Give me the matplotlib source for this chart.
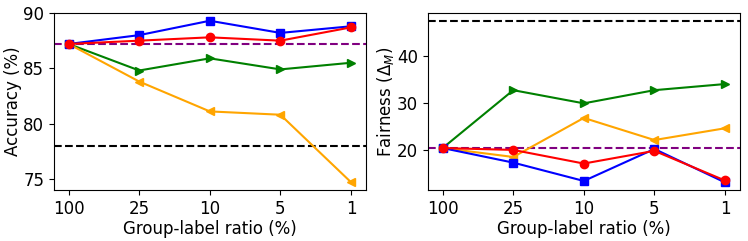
import matplotlib
matplotlib.use("Agg")
import matplotlib.pyplot as plt

ratios = ["100", "25", "10", "5", "1"]

acc_blue = [87.2, 88.0, 89.3, 88.2, 88.8]
acc_red = [87.2, 87.5, 87.8, 87.5, 88.7]
acc_green = [87.2, 84.8, 85.9, 84.9, 85.5]
acc_orange = [87.2, 83.8, 81.1, 80.8, 74.7]
acc_purple_ref = 87.2
acc_black_ref = 78.0

fair_blue = [20.5, 17.4, 13.5, 20.3, 13.2]
fair_red = [20.5, 20.1, 17.2, 19.9, 13.6]
fair_green = [20.5, 32.8, 30.0, 32.8, 34.1]
fair_orange = [20.5, 18.6, 26.9, 22.2, 24.7]
fair_purple_ref = 20.5
fair_black_ref = 47.5

plt.rcParams['font.family'] = ['DejaVu Sans']
plt.rcParams['font.size'] = 12

fig = plt.figure(figsize=(7.48, 2.41), dpi=100)
ax1 = fig.add_axes([0.072, 0.212, 0.417, 0.734])
ax2 = fig.add_axes([0.572, 0.212, 0.417, 0.734])

x = list(range(len(ratios)))

def draw(ax, blue, red, green, orange, pref, bref):
    ax.axhline(pref, color='purple', ls='--', lw=1.5)
    ax.axhline(bref, color='black', ls='--', lw=1.5)
    ax.plot(x, green, color='green', marker='>', ms=6, lw=1.5)
    ax.plot(x, orange, color='orange', marker='<', ms=6, lw=1.5)
    ax.plot(x, blue, color='blue', marker='s', ms=6, lw=1.5)
    ax.plot(x, red, color='red', marker='o', ms=6, lw=1.5)
    ax.set_xticks(x)
    ax.set_xticklabels(ratios)
    ax.set_xlim(-0.21, 4.21)
    ax.set_xlabel("Group-label ratio (%)", labelpad=2)

draw(ax1, acc_blue, acc_red, acc_green, acc_orange, acc_purple_ref, acc_black_ref)
ax1.set_ylim(74.0, 90.0)
ax1.set_yticks([75, 80, 85, 90])
ax1.set_ylabel("Accuracy (%)", labelpad=1)

draw(ax2, fair_blue, fair_red, fair_green, fair_orange, fair_purple_ref, fair_black_ref)
ax2.set_ylim(11.6, 49.2)
ax2.set_yticks([20, 30, 40])
ax2.set_ylabel(r"Fairness ($\Delta_M$)", labelpad=1)

fig.savefig("out.png", dpi=100)
